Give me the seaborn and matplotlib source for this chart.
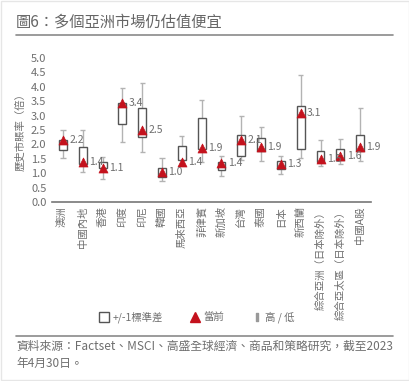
import numpy as np
import pandas as pd
import matplotlib
matplotlib.use('Agg')
import matplotlib.pyplot as plt
from matplotlib.lines import Line2D
from matplotlib.patches import Rectangle
import seaborn as sns

# data (P/B ratio, x)
markets = ['澳洲', '中國內地', '香港', '印度', '印尼', '韓國', '馬來西亞', '菲律賓',
           '新加坡', '台灣', '泰國', '日本', '新西蘭', '綜合亞洲（日本除外）',
           '綜合亞太區（日本除外）', '中國A股']
low = [1.53, 1.03, 0.80, 2.07, 1.74, 0.72, 1.30, 1.37, 0.89, 1.47, 1.41, 0.98, 1.53, 1.24, 1.30, 1.41]
high = [2.48, 2.51, 1.56, 3.96, 4.13, 1.53, 2.28, 3.55, 1.59, 2.97, 2.60, 1.59, 4.42, 2.16, 2.19, 3.26]
sd_low = [1.82, 1.30, 1.18, 2.72, 2.26, 0.87, 1.47, 1.83, 1.12, 1.61, 1.77, 1.15, 1.84, 1.38, 1.44, 1.76]
sd_high = [2.16, 1.91, 1.38, 3.44, 3.25, 1.18, 1.93, 2.92, 1.38, 2.34, 2.21, 1.41, 3.32, 1.76, 1.84, 2.34]
current = [2.16, 1.38, 1.18, 3.42, 2.5, 1.04, 1.4, 1.88, 1.36, 2.14, 1.9, 1.3, 3.1, 1.5, 1.6, 1.9]
labels = ['2.2', '1.4', '1.1', '3.4', '2.5', '1.0', '1.4', '1.9', '1.4', '2.1', '1.9', '1.3', '3.1', '1.5', '1.6', '1.9']

df = pd.DataFrame({'market': markets, 'low': low, 'high': high,
                   'sd_low': sd_low, 'sd_high': sd_high, 'current': current})
df['pos'] = np.arange(len(df))

RED = '#c4121d'
BOX = '#555555'
WHISK = '#b3b3b3'
TXT = '#6e6e6e'

sns.set_theme(style='white')
plt.rcParams['font.family'] = ['Noto Sans CJK TC', 'DejaVu Sans']

fig = plt.figure(figsize=(4.10, 3.81), dpi=100)
ax = fig.add_axes([0.127, 0.470, 0.778, 0.378])

# high / low whiskers with caps
ax.vlines(df['pos'], df['low'], df['high'], color=WHISK, lw=1.0, zorder=1)
ax.hlines(df['low'], df['pos'] - 0.13, df['pos'] + 0.13, color=WHISK, lw=1.0, zorder=1)
ax.hlines(df['high'], df['pos'] - 0.13, df['pos'] + 0.13, color=WHISK, lw=1.0, zorder=1)

# +/-1 std box
ax.bar(df['pos'], df['sd_high'] - df['sd_low'], bottom=df['sd_low'], width=0.4,
       facecolor='white', edgecolor=BOX, linewidth=1.0, zorder=2)

# current value
sns.scatterplot(data=df, x='pos', y='current', marker='^', s=42, color=RED,
                edgecolor=RED, linewidth=0.5, zorder=3, ax=ax, legend=False)
for p, v, lab in zip(df['pos'], df['current'], labels):
    ax.text(p + 0.32, v, lab, fontsize=7.5, color=TXT, va='center', ha='left')

ax.set_xlim(-0.55, 15.55)
ax.set_ylim(0, 5.0)
ax.set_yticks(np.arange(0, 5.01, 0.5))
ax.set_yticklabels([f'{t:.1f}' for t in np.arange(0, 5.01, 0.5)], fontsize=8, color=TXT)
ax.set_xticks(df['pos'])
ax.set_xticklabels(df['market'], rotation=90, fontsize=7.5, color=TXT, va='top')
ax.tick_params(axis='both', length=0)
ax.tick_params(axis='x', pad=3)
ax.tick_params(axis='y', pad=4)
ax.set_xlabel('')
ax.set_ylabel('歷史市賬率（倍）', fontsize=7.5, color=TXT, labelpad=4)
for s in ['left', 'right', 'top']:
    ax.spines[s].set_visible(False)
ax.spines['bottom'].set_color('#777777')
ax.spines['bottom'].set_linewidth(1.2)

# title and rules
fig.text(0.039, 0.942, '圖6：多個亞洲市場仍估值便宜', fontsize=11, color='#666666',
         ha='left', va='center')
fig.add_artist(Line2D([0.039, 0.959], [0.908, 0.908], color='#8a8a8a', lw=1.2))
fig.add_artist(Line2D([0.039, 0.959], [0.118, 0.118], color='#8a8a8a', lw=1.2))
fig.add_artist(Rectangle((0.003, 0.003), 0.994, 0.994, fill=False, edgecolor='#e6e6e6', lw=1.0))

# legend
handles = [
    Line2D([], [], marker='s', linestyle='none', markersize=7, markerfacecolor='white',
           markeredgecolor=BOX, markeredgewidth=1.0),
    Line2D([], [], marker='^', linestyle='none', markersize=7, color=RED),
    Line2D([], [], marker='$\\mathsf{I}$', linestyle='none', markersize=6, color='#999999'),
]
fig.legend(handles, ['+/-1標準差', '當前', '高 / 低'], loc='center', bbox_to_anchor=(0.48, 0.168),
           ncol=3, frameon=False, fontsize=7.5, labelcolor=TXT, handletextpad=0.3,
           columnspacing=2.6, handlelength=1.0)

fig.text(0.039, 0.108, '資料來源：Factset、MSCI、高盛全球經濟、商品和策略研究，截至2023\n年4月30日。',
         fontsize=8.5, color=TXT, ha='left', va='top', linespacing=1.45)

fig.savefig('out.png', dpi=100, facecolor='white')
